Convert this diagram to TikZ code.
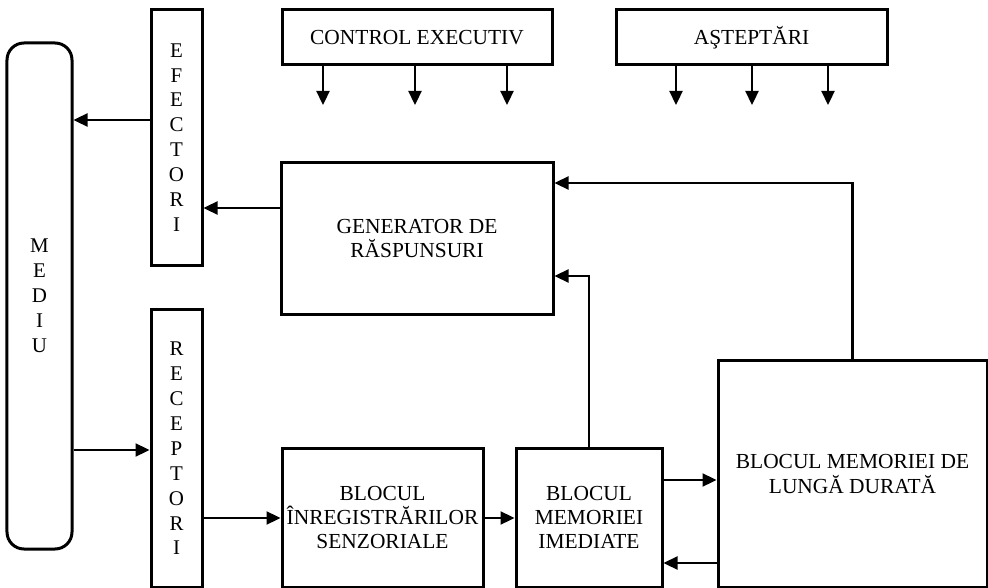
\documentclass[tikz,border=0pt]{standalone}
\usepackage{fontspec}
\setmainfont{Liberation Serif}
\usetikzlibrary{arrows.meta}
\begin{document}
\begin{tikzpicture}[x=1bp,y=-1bp,
  box/.style={draw, line width=3bp, inner sep=0pt, align=center,
    font=\fontsize{21.5}{24.5}\selectfont},
  vbox/.style={box, font=\fontsize{21}{25}\selectfont},
  arr/.style={line width=2.3bp, -{Triangle[length=14bp,width=13bp]}},
  plain/.style={line width=2.3bp}]
\useasboundingbox (0,0) rectangle (988,588);

% environment and its interfaces
\node[vbox, rounded corners=17bp, minimum width=65bp, minimum height=506bp]
  (medium) at (39.5,296) {M\\E\\D\\I\\U};
\node[vbox, minimum width=51bp, minimum height=255bp]
  (efect) at (176.5,137.5) {E\\F\\E\\C\\T\\O\\R\\I};
\node[vbox, minimum width=51bp, minimum height=277bp]
  (recep) at (176.5,448.5) {R\\E\\C\\E\\P\\T\\O\\R\\I};

% control blocks on top
\node[box, minimum width=270bp, minimum height=55bp]
  (control) at (417,37.5) {CONTROL EXECUTIV};
\node[box, minimum width=271bp, minimum height=55bp]
  (astept) at (751.5,37.5) {AŞTEPTĂRI};

% processing blocks
\node[box, minimum width=272bp, minimum height=151bp]
  (gen) at (417,238.5) {GENERATOR DE\\RĂSPUNSURI};
\node[box, minimum width=201bp, minimum height=139bp]
  (inreg) at (382.5,517.5) {BLOCUL\\ÎNREGISTRĂRILOR\\SENZORIALE};
\node[box, minimum width=146bp, minimum height=139bp]
  (imed) at (589,517.5) {BLOCUL\\MEMORIEI\\IMEDIATE};
\node[box, minimum width=269bp, minimum height=226bp]
  (lung) at (852.5,474) {BLOCUL MEMORIEI DE\\LUNGĂ DURATĂ};

% downward influence arrows
\foreach \x in {323,415,507}
  \draw[arr] (control.south -| \x,0) -- (\x,105);
\foreach \x in {676,752,828}
  \draw[arr] (astept.south -| \x,0) -- (\x,105);

% information flow
\draw[arr] (efect.west |- 0,120) -- (medium.east |- 0,120);
\draw[arr] (gen.west |- 0,208) -- (efect.east |- 0,208);
\draw[arr] (medium.east |- 0,450) -- (recep.west |- 0,450);
\draw[arr] (recep.east |- 0,518) -- (inreg.west |- 0,518);
\draw[arr] (inreg.east |- 0,518) -- (imed.west |- 0,518);
\draw[arr] (imed.east |- 0,480) -- (lung.west |- 0,480);
\draw[arr] (lung.west |- 0,563) -- (imed.east |- 0,563);
\draw[arr] (imed.north) -- (imed.north |- 0,276) -- (gen.east |- 0,276);
\draw[arr] (lung.north) -- (lung.north |- 0,183) -- (gen.east |- 0,183);
\end{tikzpicture}
\end{document}
